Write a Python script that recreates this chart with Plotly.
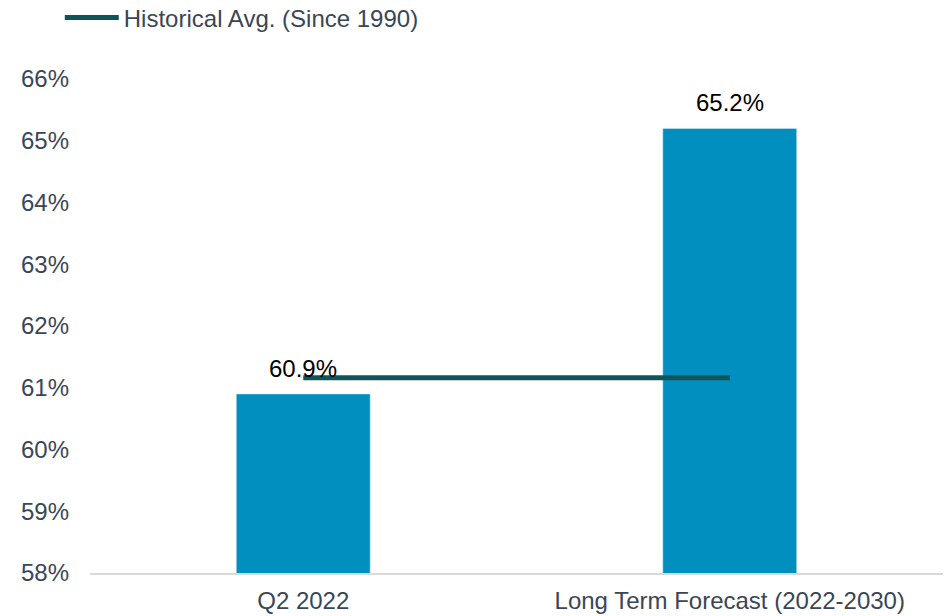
import plotly.graph_objects as go

categories = ["Q2 2022", "Long Term Forecast (2022-2030)"]
values = [60.9, 65.2]
hist_avg = [61.16, 61.16]
value_labels = ["60.9%", "65.2%"]

fig = go.Figure()
fig.add_trace(go.Bar(
    x=categories, y=values, marker_color="#008fbe", showlegend=False,
    hoverinfo="skip", width=0.314,
))
fig.add_trace(go.Scatter(
    x=categories, y=hist_avg, mode="lines", name="Historical Avg. (Since 1990)",
    line=dict(color="#0f5458", width=5), showlegend=True,
))
for c, v, t in zip(categories, values, value_labels):
    fig.add_annotation(x=c, y=v, text=t, showarrow=False, yanchor="bottom",
                       yshift=10, font=dict(size=24, color="#000000"))

fig.update_layout(
    width=949, height=616,
    margin=dict(l=90, r=6, t=79, b=43),
    plot_bgcolor="white", paper_bgcolor="white",
    font=dict(family="Liberation Sans, Arial, sans-serif", size=24, color="#3a4656"),
    legend=dict(orientation="h", xref="container", yref="container",
                x=0.063, y=0.5 + (616 / 2 - 18) / 616, xanchor="left", yanchor="middle",
                itemwidth=54, font=dict(size=24, color="#3a4656")),
    bargap=0.686,
)
fig.update_yaxes(range=[58, 66], dtick=1, ticksuffix="%", showgrid=False,
                 zeroline=False, showline=False, ticks="", ticklabelstandoff=20,
                 automargin=False)
fig.update_xaxes(showline=True, linecolor="#d9d9d9", linewidth=2, ticks="",
                 showgrid=False, ticklabelstandoff=5, automargin=False)

fig.write_html("out.html")
